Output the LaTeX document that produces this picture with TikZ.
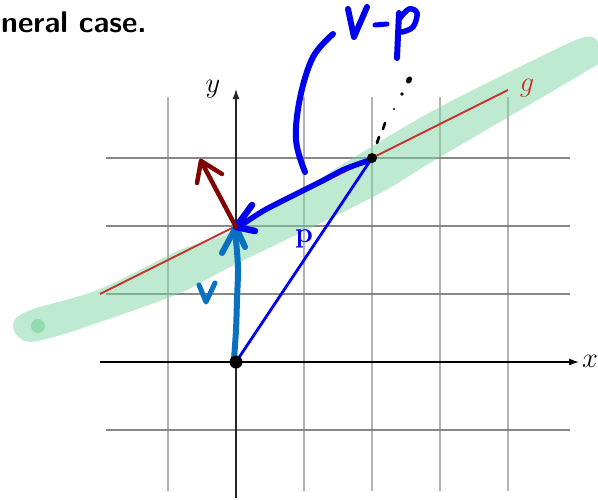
\documentclass[tikz,border=0pt]{standalone}
\usetikzlibrary{arrows.meta}
\definecolor{gridv}{RGB}{178,178,178}
\definecolor{gridh}{RGB}{135,135,135}
\definecolor{gline}{RGB}{200,50,40}
\definecolor{band}{RGB}{125,213,165}
\definecolor{banddot}{RGB}{120,205,155}
\definecolor{hblue}{RGB}{0,0,240}
\definecolor{vblue}{RGB}{10,112,192}
\definecolor{nred}{RGB}{130,5,5}
\newcommand{\biglab}[1]{\scalebox{1.65}{\fontsize{17.28}{20}\selectfont$#1$}}
\begin{document}
\begin{tikzpicture}[x=1pt,y=-1pt,
  gv/.style={draw=gridv,line width=1.4pt},
  gh/.style={draw=gridh,line width=1.4pt},
  axis/.style={line width=1.3pt,-{Latex[length=10pt,width=7pt]}},
  pen/.style={line cap=round,line join=round},
  lab/.style={inner sep=0pt},
]
\useasboundingbox (0,0) rectangle (598,499);
% grid
\foreach \gx in {168,236,304,372,440,508} \draw[gv] (\gx,97) -- (\gx,491);
\foreach \gy in {158,226,294,362,430} \draw[gh] (106,\gy) -- (570,\gy);
% highlighter band
\fill[band,fill opacity=0.5] plot[smooth cycle,tension=0.6] coordinates {
 (13,326) (28,311) (100,289) (180,250) (236,229) (371,147) (440,107) (540,57) (585,37) (599,44) (599,62) (585,72) (440,157) (371,198) (236,264) (180,293) (100,322) (50,338) (25,341)};
\fill[banddot,fill opacity=0.6] (38,326) circle (7);
% axes
\coordinate (xa) at (100,362); \coordinate (xb) at (579,362);
\coordinate (ya) at (236,498); \coordinate (yb) at (236,89);
\draw[axis,black] (xa) -- (xb);
\draw[axis,black!85] (ya) -- (yb);
\node[lab] (xl) at (590,361) {\biglab{x}};
\node[lab] (yl) at (213,89) {\biglab{y}};
% line g
\coordinate (gA) at (100,294); \coordinate (gB) at (508,90);
\draw[gline,line width=2pt] (gA) -- (gB);
\node[lab,text=gline] (gl) at (527,88) {\biglab{g}};
% key points
\coordinate (O) at (236,362);
\coordinate (P) at (372,158);
\coordinate (Q) at (236,227);
\draw[hblue,line width=2.8pt] (O) -- (P);
\node[lab,text=hblue,anchor=base] (pl) at (304,242) {\biglab{\mathbf{p}}};
% handwritten: v
\draw[pen,vblue,line width=6pt] plot[smooth,tension=0.5] coordinates {(234,359) (236,330) (237,300) (238,268) (236,240) (235,230)};
\draw[pen,vblue,line width=6pt] (222,253) -- (Q) -- (245,247);
\draw[pen,vblue,line width=5pt] (199,285) -- (206,302) -- (215,283);
% handwritten: v-p arrow
\draw[pen,hblue,line width=5.5pt] plot[smooth,tension=0.5] coordinates {(370,160) (345,169) (320,182) (290,197) (263,211) (240,226)};
\draw[pen,hblue,line width=6.5pt] (252,205) -- (Q) -- (255,231);
% normal arrow
\coordinate (N) at (201,161);
\draw[pen,nred,line width=4.5pt] (Q) -- (N);
\draw[pen,nred,line width=4.5pt] (197,183) -- (N) -- (222,174);
% bracket and "v-p"
\draw[pen,hblue,line width=6pt] plot[smooth,tension=0.6] coordinates {(333,34) (313,57) (300,98) (296,140) (305,172)};
\draw[pen,hblue,line width=6pt] (348,9) -- (354,37) -- (367,7);
\draw[pen,hblue,line width=5pt] (375,25) -- (387,24);
\draw[pen,hblue,line width=6pt] (399,13) -- (397,58);
\draw[pen,hblue,line width=5.5pt] plot[smooth,tension=0.6] coordinates {(400,18) (409,9) (417,13) (413,27) (402,32)};
% dotted line
\fill[black,rotate around={-30:(409,80)}] (409,80) ellipse (2.8 and 3.8);
\fill[black] (402,94) circle (1.8);
\fill[black] (394,109) circle (1.2);
\draw[pen,black,line width=2.6pt] (385,123) -- (383,129);
\draw[pen,black,line width=2.8pt] (379,137) -- (377,143);
% dots
\fill[black] (P) circle (5);
\fill[black] (O) circle (6.5);
% title
\node[anchor=base west,inner sep=0pt,font=\fontsize{30}{36}\selectfont\sffamily\bfseries] (title) at (1,32) {neral case.};
\end{tikzpicture}
\end{document}
